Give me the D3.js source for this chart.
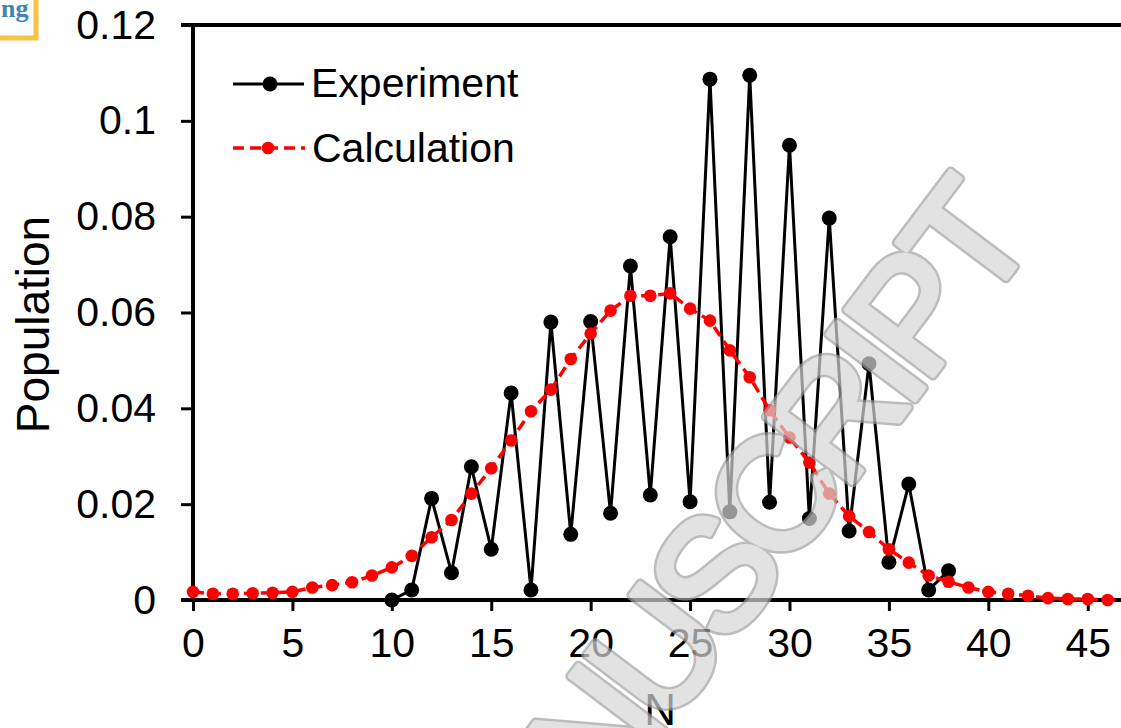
<!DOCTYPE html>
<html>
<head>
<meta charset="utf-8">
<script src="https://cdn.jsdelivr.net/npm/d3@7"></script>
<style>
  html, body { margin: 0; padding: 0; background: #fff; overflow: hidden; }
  svg { display: block; font-family: "Liberation Sans", Arial, sans-serif; }
</style>
</head>
<body>
<svg id="chart" width="1121" height="728"></svg>
<script>
// ---- Data ----
const expN = [10,11,12,13,14,15,16,17,18,19,20,21,22,23,24,25,26,27,28,29,30,31,32,33,34,35,36,37,38];
const expPop = [0.0000,0.0021,0.0212,0.0057,0.0278,0.0106,0.0432,0.0021,0.0580,0.0137,0.0581,0.0181,0.0697,0.0219,0.0758,0.0205,0.1087,0.0184,0.1095,0.0204,0.0949,0.0170,0.0797,0.0144,0.0493,0.0079,0.0242,0.0021,0.0061];

const calcN = [0,1,2,3,4,5,6,7,8,9,10,11,12,13,14,15,16,17,18,19,20,21,22,23,24,25,26,27,28,29,30,31,32,33,34,35,36,37,38,39,40,41,42,43,44,45,46,47];
const calcPop = [0.0017,0.0013,0.0013,0.0014,0.0015,0.0017,0.0026,0.0031,0.0037,0.0051,0.0068,0.0092,0.0131,0.0167,0.0222,0.0275,0.0333,0.0394,0.0439,0.0503,0.0556,0.0604,0.0635,0.0635,0.0640,0.0608,0.0583,0.0521,0.0465,0.0396,0.0339,0.0287,0.0222,0.0175,0.0142,0.0106,0.0078,0.0051,0.0038,0.0026,0.0017,0.0013,0.0009,0.0004,0.0002,0.0002,0.0000,0.0000];

const xTicks = [0,5,10,15,20,25,30,35,40,45];
const yTicks = [0,0.02,0.04,0.06,0.08,0.1,0.12];
const yTickLabels = ["0","0.02","0.04","0.06","0.08","0.1","0.12"];
const seriesNames = ["Experiment","Calculation"];
const xLabel = "N";
const yLabel = "Population";

// ---- Layout ----
const svg = d3.select("#chart");
const pLeft = 193, pRight = 1127.5, pTop = 25, pBottom = 600;

const x = d3.scaleLinear().domain([0, 47]).range([pLeft, pRight]);
const y = d3.scaleLinear().domain([0, 0.12]).range([pBottom, pTop]);

// logo fragment top-left
svg.append("rect").attr("x", -4).attr("y", -4).attr("width", 40).attr("height", 42)
  .attr("fill", "#fff").attr("stroke", "#f5c445").attr("stroke-width", 5);
svg.append("text").attr("x", 1).attr("y", 17).attr("font-family", "Liberation Serif, serif")
  .attr("font-weight", "bold").attr("font-size", 26).attr("fill", "#3d83b8").text("ng");

// Top border
svg.append("line").attr("x1", pLeft - 12).attr("x2", 1121).attr("y1", y(0.12)).attr("y2", y(0.12))
  .attr("stroke", "#000").attr("stroke-width", 4);

// Y axis
const yAxis = d3.axisLeft(y).tickValues(yTicks)
  .tickFormat((d, i) => yTickLabels[i]).tickSize(12).tickPadding(25);
const gy = svg.append("g").attr("transform", `translate(${pLeft},0)`).call(yAxis);
gy.select(".domain").attr("stroke-width", 4).attr("d", `M0,${pBottom + 2}V${pTop}`);
gy.selectAll(".tick line").attr("stroke-width", 3);
gy.selectAll(".tick text").attr("font-size", 41).attr("fill", "#000")
  .attr("font-family", "Liberation Sans, Arial, sans-serif");

// X axis
const xAxis = d3.axisBottom(x).tickValues(xTicks).tickSize(11).tickPadding(17);
const gx = svg.append("g").attr("transform", `translate(0,${pBottom})`).call(xAxis);
gx.select(".domain").attr("stroke-width", 4).attr("d", `M${pLeft - 12},0H${pRight}`);
gx.selectAll(".tick line").attr("stroke-width", 3);
gx.selectAll(".tick text").attr("font-size", 41).attr("fill", "#000")
  .attr("font-family", "Liberation Sans, Arial, sans-serif");

// Axis titles
svg.append("text").attr("transform", `translate(49,${(y(0.12)+y(0))/2 + 12}) rotate(-90)`)
  .attr("text-anchor", "middle").attr("font-size", 46).attr("fill", "#000").text(yLabel);
svg.append("text").attr("x", x(23.5)).attr("y", 725)
  .attr("text-anchor", "middle").attr("font-size", 44).attr("fill", "#000").text(xLabel);

// Series
const expData = expN.map((n, i) => [n, expPop[i]]);
const calcData = calcN.map((n, i) => [n, calcPop[i]]);
const line = d3.line().x(d => x(d[0])).y(d => y(d[1]));

svg.append("path").datum(expData).attr("d", line)
  .attr("fill", "none").attr("stroke", "#000").attr("stroke-width", 3).attr("stroke-linejoin", "miter");
svg.append("g").selectAll("circle").data(expData).join("circle")
  .attr("cx", d => x(d[0])).attr("cy", d => y(d[1])).attr("r", 7.5).attr("fill", "#000");

svg.append("path").datum(calcData).attr("d", line)
  .attr("fill", "none").attr("stroke", "#ff0000").attr("stroke-width", 3.5)
  .attr("stroke-dasharray", "11,6");
svg.append("g").selectAll("circle").data(calcData).join("circle")
  .attr("cx", d => x(d[0])).attr("cy", d => y(d[1])).attr("r", 6.3).attr("fill", "#ff0000");

// Legend
const lg = svg.append("g");
lg.append("line").attr("x1", 233).attr("x2", 304).attr("y1", 84).attr("y2", 84)
  .attr("stroke", "#000").attr("stroke-width", 3);
lg.append("circle").attr("cx", 270).attr("cy", 84).attr("r", 7.5).attr("fill", "#000");
lg.append("text").attr("x", 311).attr("y", 97).attr("font-size", 41).attr("fill", "#000").text(seriesNames[0]);
lg.append("line").attr("x1", 233).attr("x2", 305).attr("y1", 148).attr("y2", 148)
  .attr("stroke", "#ff0000").attr("stroke-width", 3.5).attr("stroke-dasharray", "11,6");
lg.append("circle").attr("cx", 268).attr("cy", 148).attr("r", 6.3).attr("fill", "#ff0000");
lg.append("text").attr("x", 312).attr("y", 162).attr("font-size", 41).attr("fill", "#000").text(seriesNames[1]);

// Watermark (tube-like grey letters)
const wm = svg.append("g").attr("opacity", 0.7)
  .attr("transform", "translate(476,982) rotate(-53)");
[["#a0a0a0", 10], ["#d6d6d6", 5]].forEach(([c, w]) => {
  wm.append("text")
    .attr("font-size", 158).attr("letter-spacing", -12)
    .attr("fill", c).attr("stroke", c).attr("stroke-width", w)
    .attr("stroke-linejoin", "round")
    .text("MANUSCRIPT");
});
</script>
</body>
</html>
